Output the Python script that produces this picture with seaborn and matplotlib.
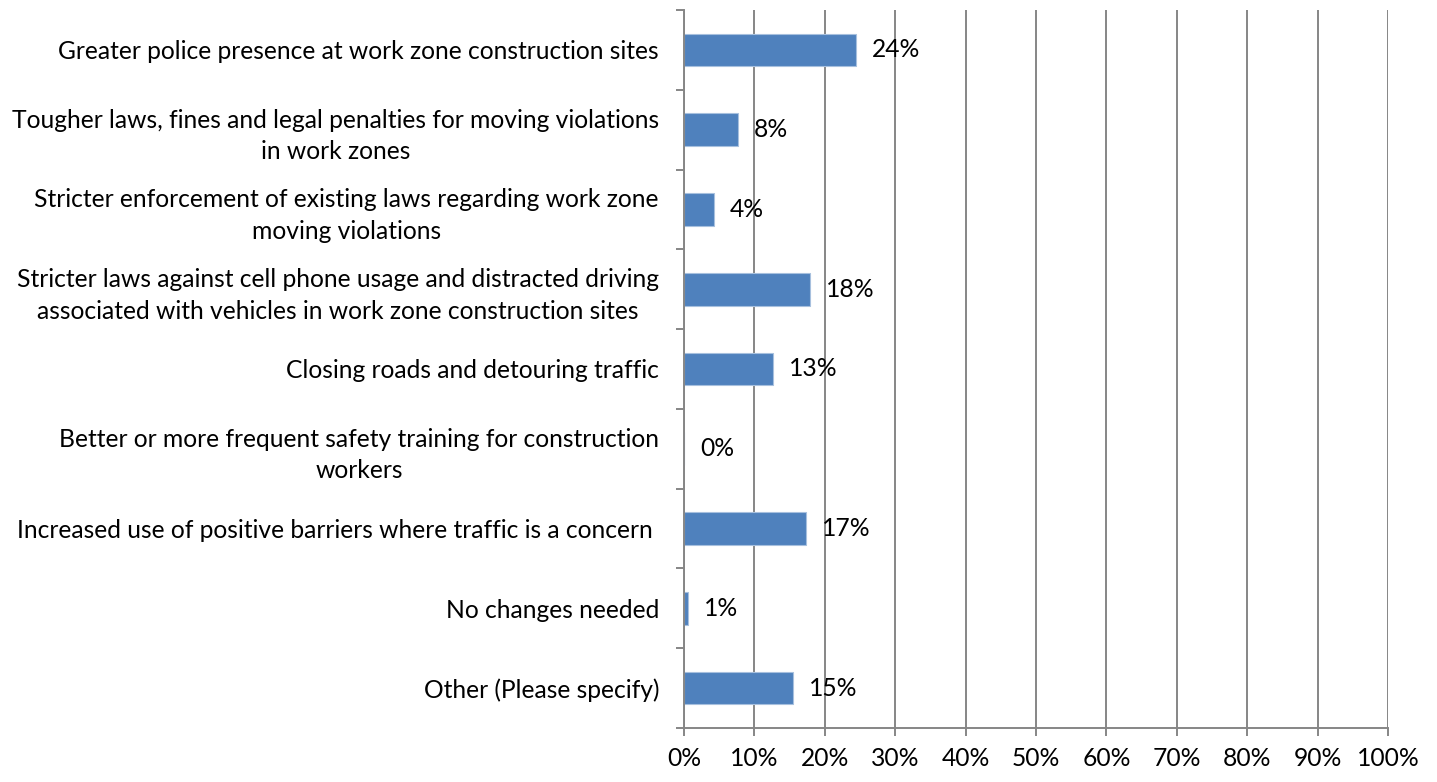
import matplotlib
matplotlib.use("Agg")
import matplotlib.pyplot as plt
import seaborn as sns
import pandas as pd
from matplotlib.ticker import PercentFormatter

# data
categorias = [
    "Greater police presence at work zone construction sites",
    "Tougher laws, fines and legal penalties for moving violations\nin work zones",
    "Stricter enforcement of existing laws regarding work zone\nmoving violations",
    "Stricter laws against cell phone usage and distracted driving\nassociated with vehicles in work zone construction sites",
    "Closing roads and detouring traffic",
    "Better or more frequent safety training for construction\nworkers",
    "Increased use of positive barriers where traffic is a concern ",
    "No changes needed",
    "Other (Please specify)",
]
valores = [24.4, 7.7, 4.2, 17.9, 12.6, 0.0, 17.3, 0.6, 15.5]
rotulos = ["24%", "8%", "4%", "18%", "13%", "0%", "17%", "1%", "15%"]
ticks_x = list(range(0, 101, 10))

sns.set_theme(style="white")
plt.rcParams["font.family"] = ["Lato", "DejaVu Sans"]
fs = 17.7

df = pd.DataFrame({"categoria": categorias, "valor": valores})

fig = plt.figure(figsize=(14.37, 7.82), dpi=100)
ax = fig.add_axes([684 / 1437, 1 - 728 / 782, (1388 - 684) / 1437, (728 - 10) / 782])

cinza = "#868686"
sns.barplot(data=df, y="categoria", x="valor", orient="h", color="#4F81BD",
            saturation=1, width=0.41, edgecolor="#A7C0DE", linewidth=0.8, ax=ax)

ax.set_xlim(0, 100)
ax.set_ylim(len(categorias) - 0.5, -0.5)
ax.set_xticks(ticks_x)
ax.xaxis.set_major_formatter(PercentFormatter(decimals=0))
ax.grid(axis="x", color=cinza, linewidth=1.4)
ax.set_axisbelow(True)
ax.set_xlabel("")
ax.set_ylabel("")

for s in ["top", "right"]:
    ax.spines[s].set_visible(False)
for s in ["left", "bottom"]:
    ax.spines[s].set_color(cinza)
    ax.spines[s].set_linewidth(1.4)

# ticks do eixo y nas fronteiras das categorias
ax.set_yticks([i - 0.5 for i in range(len(categorias) + 1)], minor=True)
ax.tick_params(axis="y", which="major", length=0, pad=25 * 0.72, labelsize=fs, colors="black")
ax.tick_params(axis="y", which="minor", left=True, length=5.8, width=1.4, color=cinza)
ax.tick_params(axis="x", which="major", bottom=True, length=5.8, width=1.4, color=cinza,
               labelsize=fs, labelcolor="black", pad=8)
for t in ax.get_yticklabels():
    t.set_multialignment("center")
    t.set_linespacing(1.45)

ax.bar_label(ax.containers[0], labels=rotulos, padding=11.5, fontsize=fs, color="black")

fig.savefig("out.png", dpi=100)
